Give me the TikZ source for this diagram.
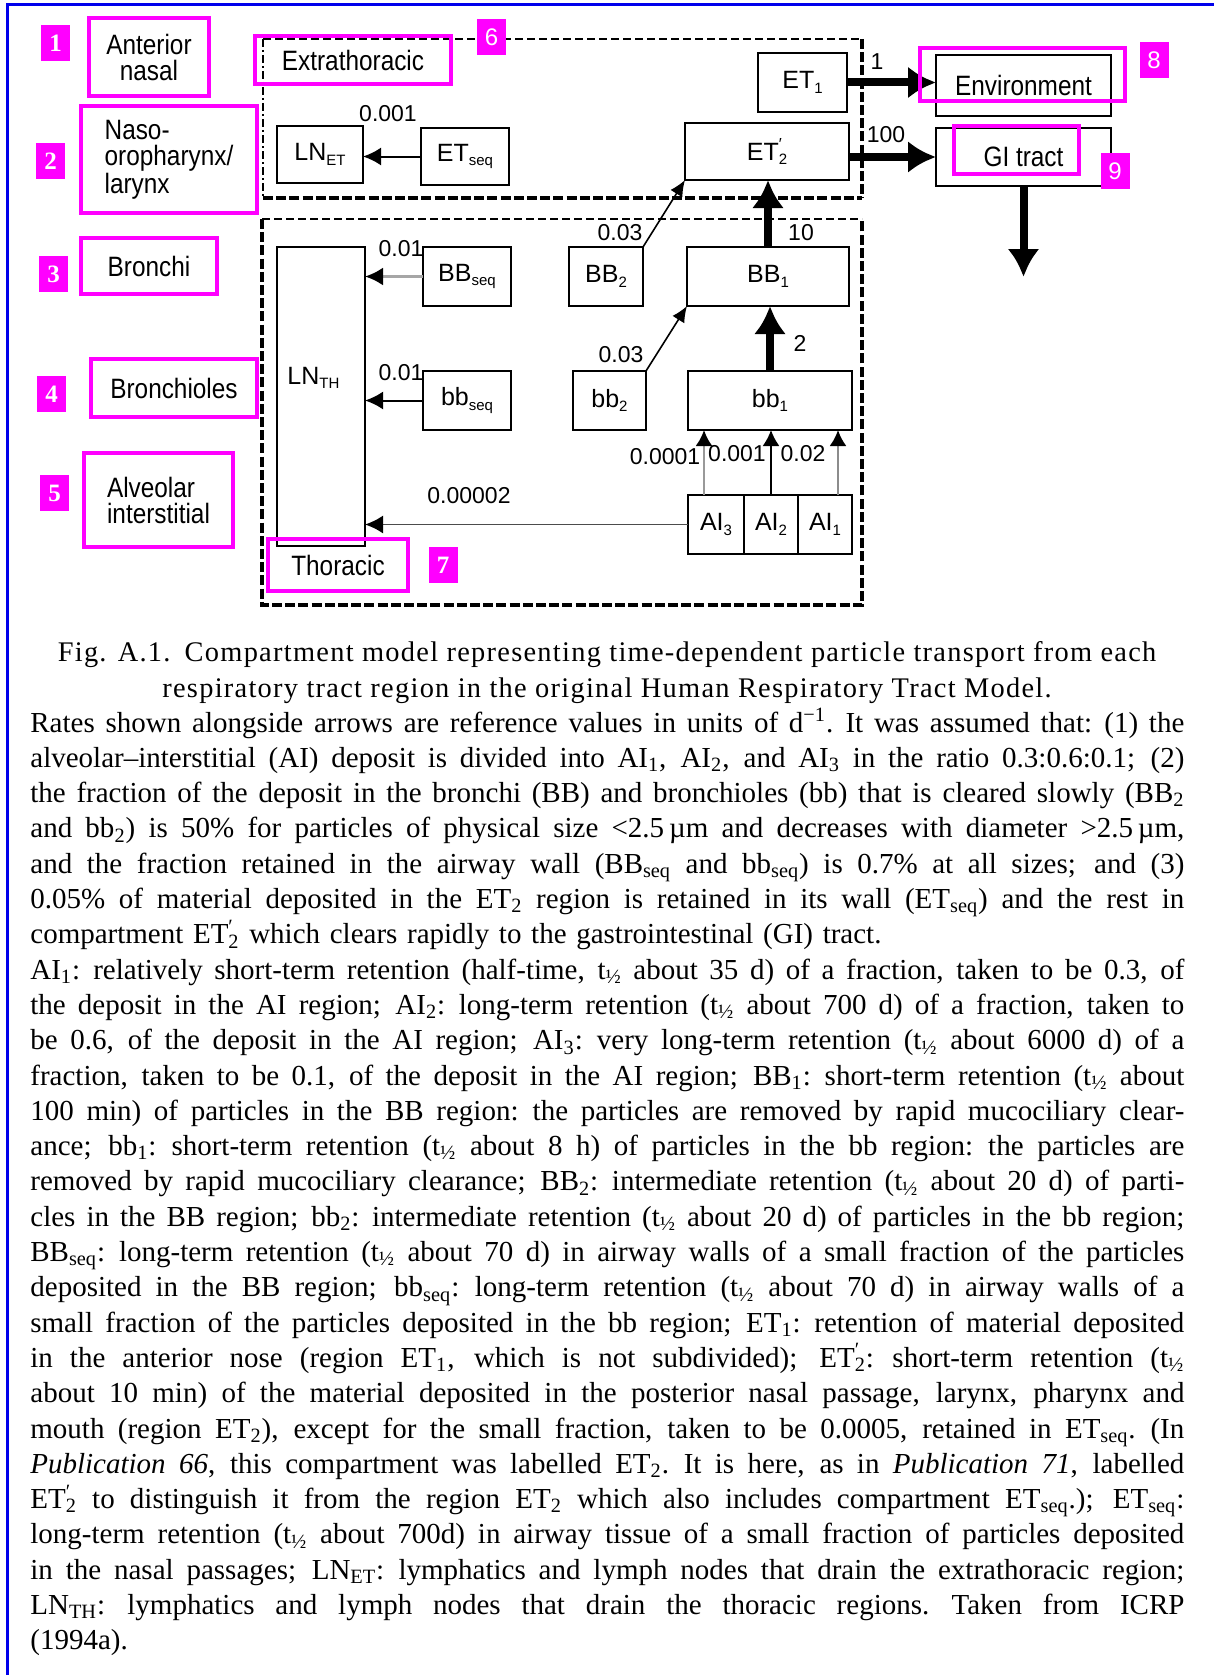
\documentclass[tikz,border=0pt]{standalone}
\usepackage{fontspec}
\setmainfont{Liberation Serif}
\newfontfamily\capfont[LetterSpace=4.5]{Liberation Serif}
\newfontfamily\dfont[FakeStretch=0.87]{Liberation Sans}
\newfontfamily\nfont{Liberation Sans}
\newfontfamily\bsfont{Liberation Serif}
\usetikzlibrary{arrows.meta}
\definecolor{mag}{RGB}{255,0,255}
\definecolor{fblue}{RGB}{0,0,235}
\newcommand\sqs{\textsubscript{seq}}
\newcommand\thf{t\textsubscript{½}}
\newcommand\etpp{ET\rlap{\textsuperscript{′}}\textsubscript{2}}
\newcommand\jl[1]{\hbox to 577pt{\spaceskip=0.25em plus 1em minus 0.08em\xspaceskip=0.3em plus 1em minus 0.08em #1}}
\newcommand\dsub[1]{\raisebox{-0.35ex}{\fontsize{7.5}{8}\selectfont #1}}
\newcommand\detp{ET\rlap{\raisebox{0.85ex}{\fontsize{8}{8}\selectfont ′}}\dsub{2}}
\tikzset{
  cbox/.style={draw, line width=1pt, inner sep=0pt, outer sep=0pt, font=\nfont\fontsize{12.5}{14}\selectfont},
  mbox/.style={draw=mag, line width=2.2pt, inner sep=0pt, align=center, font=\dfont\fontsize{14}{13}\selectfont},
  mrect/.style={draw=mag, line width=2.2pt, inner sep=0pt},
  numsq/.style={fill=mag, text=white, minimum width=14.5pt, minimum height=18pt, inner sep=0pt, font=\bsfont\bfseries\fontsize{12.5}{13}\selectfont},
  numsqs/.style={numsq, font=\nfont\fontsize{12}{13}\selectfont},
  rlab/.style={inner sep=0pt, font=\nfont\fontsize{11.5}{12}\selectfont},
  thk/.style={line width=4pt, -{Latex[length=14pt,width=16pt]}},
  thn/.style={line width=1pt, -{Latex[length=9pt,width=9pt]}},
  thns/.style={line width=0.8pt, -{Latex[length=8pt,width=7pt]}},
  thindash/.style={line width=1pt, dash pattern=on 4pt off 2pt},
  thindd/.style={line width=1pt, dash pattern=on 4pt off 1.5pt on 1pt off 1.5pt},
  heavydash/.style={line width=2.2pt, dash pattern=on 5pt off 1.6pt},
}
\begin{document}
\begin{tikzpicture}[x=0.5pt,y=-0.5pt]
\useasboundingbox (0,0) rectangle (1214,1675);
\fill[white] (0,0) rectangle (1214,1675);
% blue frame
\draw[fblue, line width=1.5pt] (7,1675) -- (7,5) -- (1214,5);

% dashed regions
\draw[thindash] (263,39) -- (862,39);
\draw[thindd] (263,39) -- (263,198);
\draw[heavydash] (263,198) -- (862,198);
\draw[heavydash] (862,39) -- (862,198);
\draw[thindash] (262,219) -- (862,219);
\draw[heavydash] (262,219) -- (262,605) -- (862,605) -- (862,219);

% compartments
\node[cbox, minimum width=44.5pt, minimum height=29.5pt] (et1) at (802.5,82.5) {ET\dsub{1}};
\node[cbox, minimum width=82pt, minimum height=28.5pt] (et2p) at (767,151.5) {\detp};
\node[cbox, minimum width=44pt, minimum height=28.5pt] (etseq) at (465,156.5) {ET\dsub{seq}};
\node[cbox, minimum width=43pt, minimum height=28.5pt] (lnet) at (320,154.5) {LN\dsub{ET}};
\node[cbox, minimum width=87.5pt, minimum height=30.5pt, font=\dfont\fontsize{14}{14}\selectfont] (env) at (1023.5,85.5) {Environment};
\node[cbox, minimum width=87.5pt, minimum height=29pt, font=\dfont\fontsize{14}{14}\selectfont] (gi) at (1023.5,157) {GI tract};
\node[cbox, minimum width=44pt, minimum height=149.5pt] (lnth) at (321,396.5) {};
\node[anchor=west, inner sep=0pt, font=\nfont\fontsize{12.5}{14}\selectfont] (lnthlab) at (287,378) {LN\dsub{TH}};
\node[cbox, minimum width=44pt, minimum height=29.5pt] (bbseq) at (467,276.5) {BB\dsub{seq}};
\node[cbox, minimum width=37pt, minimum height=29.5pt] (bb2) at (606,276.5) {BB\dsub{2}};
\node[cbox, minimum width=81pt, minimum height=29.5pt] (bb1) at (768,276.5) {BB\dsub{1}};
\node[cbox, minimum width=44pt, minimum height=29.5pt] (bbsq) at (467,400.5) {bb\dsub{seq}};
\node[cbox, minimum width=36.5pt, minimum height=29.5pt] (sb2) at (609.5,400.5) {bb\dsub{2}};
\node[cbox, minimum width=82pt, minimum height=29.5pt] (sb1) at (770,400.5) {bb\dsub{1}};
\node[cbox, minimum width=28pt, minimum height=29.5pt] (ai3) at (716,524.5) {AI\dsub{3}};
\node[cbox, minimum width=27pt, minimum height=29.5pt] (ai2) at (771,524.5) {AI\dsub{2}};
\node[cbox, minimum width=27pt, minimum height=29.5pt] (ai1) at (825,524.5) {AI\dsub{1}};
\coordinate (gidown) at (1023.5,277);

% connectors
\draw[thn] (etseq.west) -- (lnet.east |- etseq.west);
\draw[thk] (et1.east) -- (env.west |- et1.east);
\draw[thk] (et2p.east |- gi.west) -- (gi.west);
\draw[thk] (bb1.north) -- (et2p.south -| bb1.north);
\draw[thk] (sb1.north) -- (bb1.south -| sb1.north);
\draw[thk] (gi.south) -- (gidown);
\draw[thns] (bb2.north east) -- (et2p.south west);
\draw[thns] (sb2.north east) -- (bb1.south west);
\draw[line width=1.3pt, black!35, -{Latex[length=9pt,width=9pt,black]}] (bbseq.west) -- (lnth.east |- bbseq.west);
\draw[thn] (bbsq.west) -- (lnth.east |- bbsq.west);
\draw[line width=0.9pt, black!70, -{Latex[length=9pt,width=9pt,black]}] (ai3.west) -- (lnth.east |- ai3.west);
\draw[line width=1.2pt, black!40, -{Latex[length=8pt,width=8.5pt,black]}] ([xshift=-6pt]ai3.north) -- ([xshift=-6pt]ai3.north |- sb1.south);
\draw[line width=1pt, -{Latex[length=8pt,width=8.5pt]}] (ai2.north) -- (ai2.north |- sb1.south);
\draw[line width=1.2pt, black!45, -{Latex[length=8pt,width=8.5pt,black]}] ([xshift=6.5pt]ai1.north) -- ([xshift=6.5pt]ai1.north |- sb1.south);

% rate labels
\node[rlab] (r1) at (388,114) {0.001};
\node[rlab] (r2) at (877,62) {1};
\node[rlab] (r3) at (886,135) {100};
\node[rlab] (r4) at (620,233) {0.03};
\node[rlab] (r5) at (801,233) {10};
\node[rlab] (r6) at (401,249) {0.01};
\node[rlab] (r7) at (401,373) {0.01};
\node[rlab] (r8) at (621,355) {0.03};
\node[rlab] (r9) at (800,343) {2};
\node[rlab] (r10) at (665,457) {0.0001};
\node[rlab] (r11) at (737,454) {0.001};
\node[rlab] (r12) at (803,454) {0.02};
\node[rlab] (r13) at (469,496) {0.00002};

% magenta annotations
\node[mbox, minimum width=60pt, minimum height=39pt] (ant) at (149,57) {Anterior\\nasal};
\node[mbox, minimum width=88pt, minimum height=53.5pt, align=left] (naso) at (169,159.5) {Naso-\\oropharynx/\\larynx};
\node[mbox, minimum width=68pt, minimum height=28pt] (bron) at (149,266) {Bronchi};
\node[mbox, minimum width=83pt, minimum height=29pt] (brol) at (174,388) {Bronchioles};
\node[mbox, minimum width=74.5pt, minimum height=47pt, align=left] (alv) at (158.5,500) {Alveolar\\interstitial};
\node[mbox, minimum width=98pt, minimum height=24pt] (extr) at (353,60) {Extrathoracic};
\node[mbox, minimum width=70pt, minimum height=26pt] (thor) at (338,565) {Thoracic};
\node[mrect, minimum width=102.5pt, minimum height=26.5pt] (envm) at (1022.5,74.5) {};
\node[mrect, minimum width=62.5pt, minimum height=24pt] (gim) at (1016.5,150) {};

\node[numsq] (n1) at (55.5,43) {1};
\node[numsq] (n2) at (50.5,161) {2};
\node[numsq] (n3) at (53.5,274) {3};
\node[numsq] (n4) at (51.5,394) {4};
\node[numsq] (n5) at (54.5,493) {5};
\node[numsqs] (n6) at (491.5,37) {6};
\node[numsq] (n7) at (443,565) {7};
\node[numsqs] (n8) at (1154,60.5) {8};
\node[numsqs] (n9) at (1115,171) {9};

% caption
\node[anchor=base, inner sep=0pt, align=center, font=\capfont\fontsize{14.2}{17.65}\selectfont] (cap) at (607,697)
{Fig. A.1.\enspace Compartment model representing time-dependent particle transport from each\\
respiratory tract region in the original Human Respiratory Tract Model.};

\node[anchor=base west, inner sep=0pt, text width=577pt, font=\fontsize{14.5}{17.65}\selectfont] (body) at (30,732) {%
\jl{Rates shown alongside arrows are reference values in units of d\textsuperscript{−1}. It was assumed that: (1) the}
\jl{alveolar–interstitial (AI) deposit is divided into AI\textsubscript{1}, AI\textsubscript{2}, and AI\textsubscript{3} in the ratio 0.3:0.6:0.1; (2)}
\jl{the fraction of the deposit in the bronchi (BB) and bronchioles (bb) that is cleared slowly (BB\textsubscript{2}}
\jl{and bb\textsubscript{2}) is 50\% for particles of physical size <2.5\,µm and decreases with diameter >2.5\,µm,}
\jl{and the fraction retained in the airway wall (BB\sqs{} and bb\sqs) is 0.7\% at all sizes; and (3)}
\jl{0.05\% of material deposited in the ET\textsubscript{2} region is retained in its wall (ET\sqs) and the rest in}
\hbox{compartment \etpp{} which clears rapidly to the gastrointestinal (GI) tract.}
\jl{AI\textsubscript{1}: relatively short-term retention (half-time, \thf{} about 35 d) of a fraction, taken to be 0.3, of}
\jl{the deposit in the AI region; AI\textsubscript{2}: long-term retention (\thf{} about 700 d) of a fraction, taken to}
\jl{be 0.6, of the deposit in the AI region; AI\textsubscript{3}: very long-term retention (\thf{} about 6000 d) of a}
\jl{fraction, taken to be 0.1, of the deposit in the AI region; BB\textsubscript{1}: short-term retention (\thf{} about}
\jl{100 min) of particles in the BB region: the particles are removed by rapid mucociliary clear-}
\jl{ance; bb\textsubscript{1}: short-term retention (\thf{} about 8 h) of particles in the bb region: the particles are}
\jl{removed by rapid mucociliary clearance; BB\textsubscript{2}: intermediate retention (\thf{} about 20 d) of parti-}
\jl{cles in the BB region; bb\textsubscript{2}: intermediate retention (\thf{} about 20 d) of particles in the bb region;}
\jl{BB\sqs: long-term retention (\thf{} about 70 d) in airway walls of a small fraction of the particles}
\jl{deposited in the BB region; bb\sqs: long-term retention (\thf{} about 70 d) in airway walls of a}
\jl{small fraction of the particles deposited in the bb region; ET\textsubscript{1}: retention of material deposited}
\jl{in the anterior nose (region ET\textsubscript{1}, which is not subdivided); \etpp: short-term retention (\thf}
\jl{about 10 min) of the material deposited in the posterior nasal passage, larynx, pharynx and}
\jl{mouth (region ET\textsubscript{2}), except for the small fraction, taken to be 0.0005, retained in ET\sqs. (In}
\jl{\textit{Publication 66}, this compartment was labelled ET\textsubscript{2}. It is here, as in \textit{Publication 71}, labelled}
\jl{\etpp{} to distinguish it from the region ET\textsubscript{2} which also includes compartment ET\sqs.); ET\sqs:}
\jl{long-term retention (\thf{} about 700d) in airway tissue of a small fraction of particles deposited}
\jl{in the nasal passages; LN\textsubscript{ET}: lymphatics and lymph nodes that drain the extrathoracic region;}
\jl{LN\textsubscript{TH}: lymphatics and lymph nodes that drain the thoracic regions. Taken from ICRP}
\hbox{(1994a).}};
\end{tikzpicture}
\end{document}
